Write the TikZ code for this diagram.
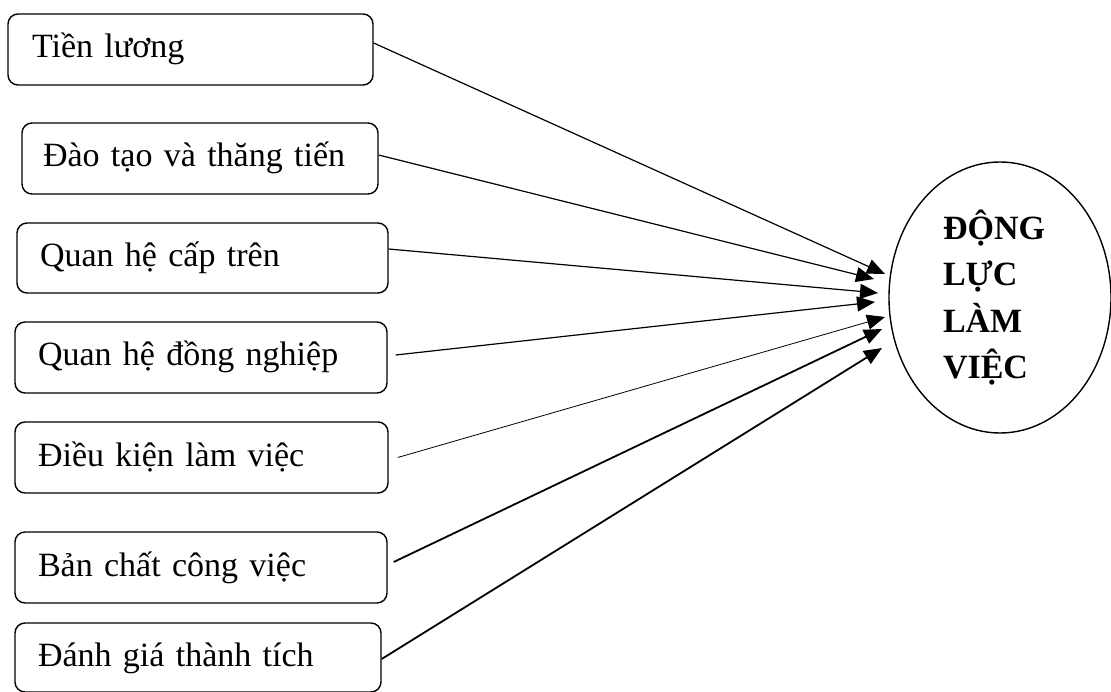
\documentclass[tikz,border=0pt]{standalone}
\usepackage{fontspec}
\setmainfont{Liberation Serif}
\usetikzlibrary{shapes.geometric,arrows.meta}
\tikzset{
  fbox/.style={draw, line width=1.4pt, rounded corners=10pt, align=left,
    inner xsep=23pt, inner ysep=0pt, text height=25.5pt, text depth=8.5pt,
    font=\fontsize{34pt}{40pt}\selectfont},
  ell/.style={draw, ellipse, line width=1.4pt, inner sep=0pt, align=left,
    font=\fontsize{34pt}{46.3pt}\selectfont\bfseries},
  conn/.style={line width=1.2pt, -{Triangle[length=18pt 0, width=15pt 0]}}
}
\begin{document}
\begin{tikzpicture}[x=1pt, y=-1pt]
\useasboundingbox (0,0) rectangle (1111,692);
\node[fbox, inner xsep=24pt, text width=317pt, minimum height=71pt] (b1) at (190.5,49.5) {Tiền lương};
\node[fbox, inner xsep=21pt, text width=314pt, minimum height=71pt] (b2) at (200,158.5) {Đào tạo và thăng tiến};
\node[fbox, text width=325pt, minimum height=70pt] (b3) at (202.5,258) {Quan hệ cấp trên};
\node[fbox, text width=326pt, minimum height=71pt] (b4) at (201,357.5) {Quan hệ đồng nghiệp};
\node[fbox, text width=327pt, minimum height=71pt] (b5) at (201.5,457.5) {Điều kiện làm việc};
\node[fbox, text width=326pt, minimum height=71pt] (b6) at (201,567.5) {Bản chất công việc};
\node[fbox, text width=320pt, minimum height=69pt] (b7) at (198,657.5) {Đánh giá thành tích};
\node[ell, minimum width=222pt, minimum height=271pt] (m) at (1000,297.5) {ĐỘNG\hspace*{12pt}\\LỰC\\LÀM\\VIỆC};
\coordinate (t1) at (885,274);
\coordinate (t2) at (874,279);
\coordinate (t3) at (878,293);
\coordinate (t4) at (875,302);
\coordinate (t5) at (885,317);
\coordinate (t6) at (882,329);
\coordinate (t7) at (882,348);
\draw[conn] ([yshift=6.5pt]b1.east) -- (t1);
\draw[conn] ([yshift=3.5pt]b2.east) -- (t2);
\draw[conn] ([yshift=9pt]b3.east) -- (t3);
\draw[conn] ([xshift=8pt,yshift=2.5pt]b4.east) -- (t4);
\draw[conn, line width=0.8pt] ([xshift=9pt]b5.east) -- (t5);
\draw[conn, line width=1.8pt] ([xshift=6pt,yshift=5.5pt]b6.east) -- (t6);
\draw[conn, line width=1.8pt] ([yshift=-1.5pt]b7.east) -- (t7);
\end{tikzpicture}
\end{document}
